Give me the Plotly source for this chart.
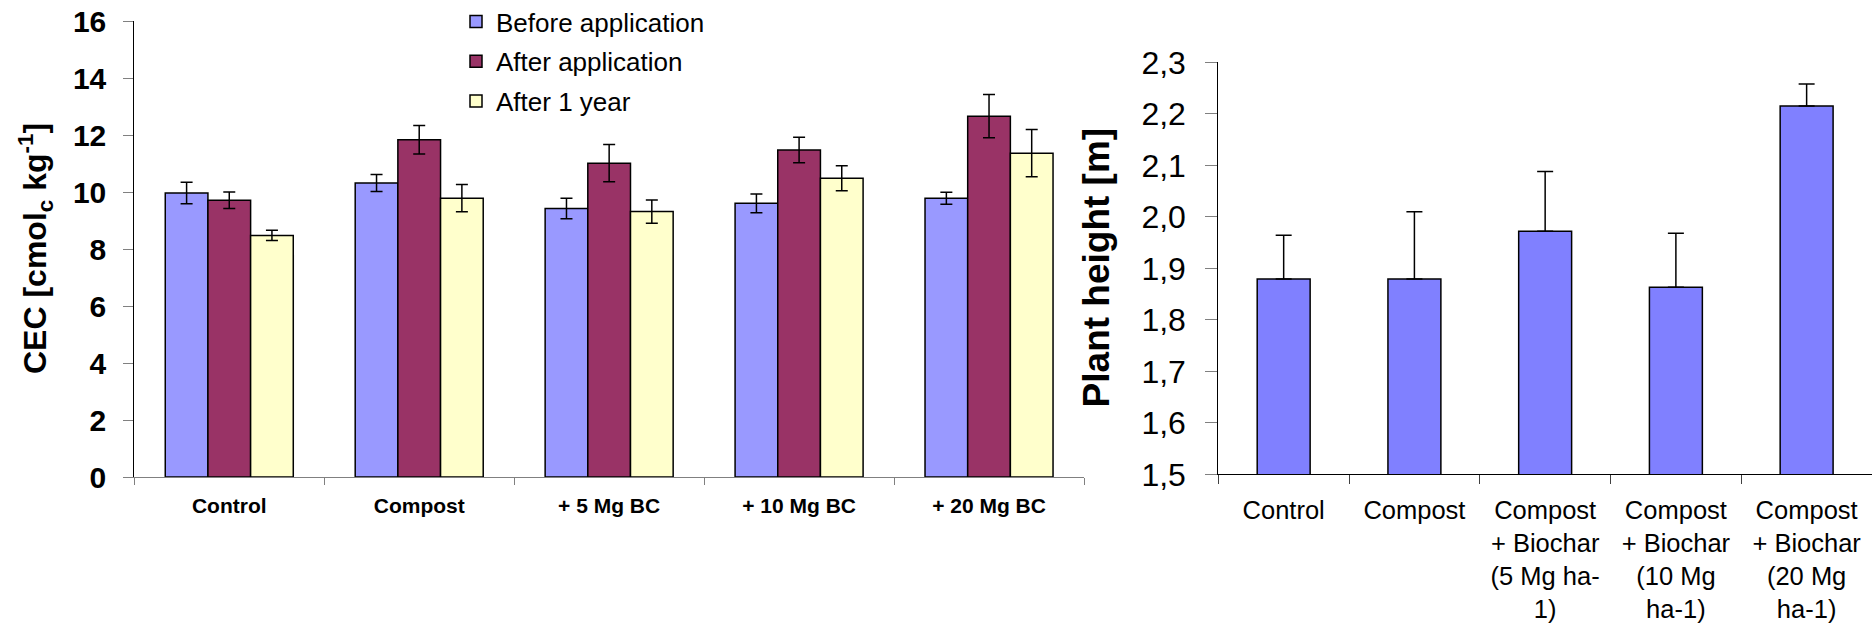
import plotly.graph_objects as go

# ---- Data: CEC chart ----
cec_categories = ["Control", "Compost", "+ 5 Mg BC", "+ 10 Mg BC", "+ 20 Mg BC"]
cec_before = [9.97, 10.32, 9.43, 9.61, 9.79]
cec_before_err = [0.38, 0.30, 0.36, 0.33, 0.21]
cec_after = [9.72, 11.84, 11.02, 11.48, 12.67]
cec_after_err = [0.29, 0.50, 0.65, 0.45, 0.76]
cec_year = [8.48, 9.79, 9.32, 10.49, 11.37]
cec_year_err = [0.18, 0.48, 0.41, 0.44, 0.83]
series_names = ["Before application", "After application", "After 1 year"]

# ---- Data: plant height chart ----
ph_categories = ["Control", "Compost", "Compost + Biochar (5 Mg ha-1)",
                 "Compost + Biochar (10 Mg ha-1)", "Compost + Biochar (20 Mg ha-1)"]
ph_ticktext = ["Control", "Compost", "Compost<br>+ Biochar<br>(5 Mg ha-<br>1)",
               "Compost<br>+ Biochar<br>(10 Mg<br>ha-1)", "Compost<br>+ Biochar<br>(20 Mg<br>ha-1)"]
ph_height = [1.879, 1.879, 1.972, 1.863, 2.215]
ph_err = [0.085, 0.131, 0.116, 0.105, 0.043]

W, H = 1872, 628
FONT = "Liberation Sans, Arial, sans-serif"
colors = ["#9999FF", "#993366", "#FFFFCC"]

fig = go.Figure()
for name, vals, errs, col in zip(series_names,
                                 [cec_before, cec_after, cec_year],
                                 [cec_before_err, cec_after_err, cec_year_err],
                                 colors):
    fig.add_trace(go.Bar(
        x=cec_categories, y=vals, name=name, xaxis="x", yaxis="y",
        marker=dict(color=col, line=dict(color="black", width=1.5)),
        error_y=dict(type="data", array=errs, visible=True, color="black",
                     thickness=1.5, width=6),
        legendgroup=name,
    ))

fig.add_trace(go.Bar(
    x=ph_categories, y=ph_height, xaxis="x2", yaxis="y2", showlegend=False,
    width=0.405,
    marker=dict(color="#8080FF", line=dict(color="black", width=1.5)),
    error_y=dict(type="data", symmetric=False, array=ph_err,
                 arrayminus=[0] * len(ph_err), visible=True, color="black",
                 thickness=1.5, width=8),
))

def px_x(p):
    return p / W

def px_y(p):
    return (H - p) / H

fig.update_layout(
    width=W, height=H, autosize=False,
    margin=dict(l=0, r=0, t=0, b=0, pad=0, autoexpand=False),
    paper_bgcolor="white", plot_bgcolor="white",
    separators=",.",
    barmode="group", bargap=0.326, bargroupgap=0,
    font=dict(family=FONT, color="black"),
    showlegend=True,
    legend=dict(x=px_x(456), y=px_y(-2), xanchor="left", yanchor="top",
                font=dict(size=26, family=FONT, color="black"),
                bgcolor="rgba(0,0,0,0)", tracegroupgap=3, itemwidth=30),
    xaxis=dict(domain=[px_x(134.3), px_x(1084)], anchor="y", automargin=False,
               type="category", showline=True, linecolor="#808080", linewidth=1,
               ticks="outside", tickson="boundaries", ticklen=7, tickcolor="#808080",
               tickfont=dict(size=21, family=FONT, weight="bold", color="black"),
               ticklabelstandoff=10, showgrid=False, zeroline=False),
    yaxis=dict(domain=[px_y(477), px_y(21.3)], anchor="x", range=[0, 16], dtick=2,
               automargin=False,
               showline=True, linecolor="black", linewidth=1,
               ticks="outside", ticklen=10, tickcolor="#808080",
               tickfont=dict(size=30, family=FONT, weight="bold", color="black"),
               ticklabelstandoff=11, showgrid=False, zeroline=False),
    xaxis2=dict(domain=[px_x(1218.3), 1.0], anchor="y2", automargin=False,
                type="category", showline=True, linecolor="black", linewidth=1,
                ticks="outside", tickson="boundaries", ticklen=9, tickcolor="#404040",
                tickvals=ph_categories, ticktext=ph_ticktext,
                tickfont=dict(size=25.5, family=FONT, color="black"),
                ticklabelstandoff=13, showgrid=False, zeroline=False),
    yaxis2=dict(domain=[px_y(474.3), px_y(62.3)], anchor="x2", range=[1.5, 2.3],
                dtick=0.1, tickformat=".1f", automargin=False,
                showline=True, linecolor="black", linewidth=1,
                ticks="outside", ticklen=12, tickcolor="#808080",
                tickfont=dict(size=32, family=FONT, color="black"),
                ticklabelstandoff=13, showgrid=False, zeroline=False),
    annotations=[
        dict(text="<b>CEC [cmol<sub>c</sub> kg<sup>-1</sup>]</b>", xref="paper", yref="paper",
             x=px_x(36), y=px_y(249), xanchor="center", yanchor="middle",
             textangle=-90, showarrow=False, font=dict(size=32, family=FONT, color="black")),
        dict(text="<b>Plant height [m]</b>", xref="paper", yref="paper",
             x=px_x(1096), y=px_y(267.4), xanchor="center", yanchor="middle",
             textangle=-90, showarrow=False, font=dict(size=37, family=FONT, color="black")),
    ],
)

fig.write_html("out.html",
               config={"displayModeBar": False},
               post_script="document.body.style.margin='0';document.body.style.overflow='hidden';")
